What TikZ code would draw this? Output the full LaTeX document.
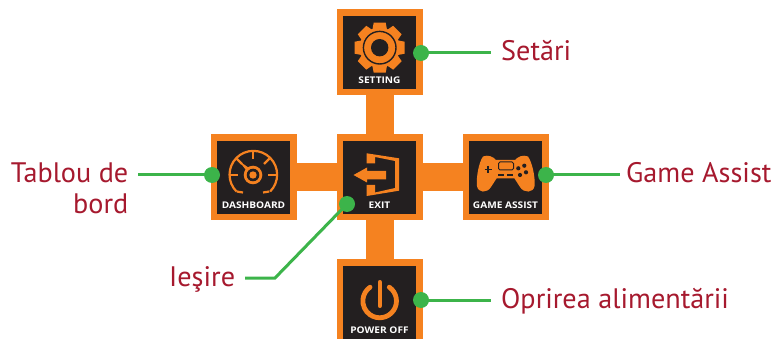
\documentclass[tikz,border=0pt]{standalone}
\usepackage{fontspec}
\setmainfont{PT Sans}
\newfontfamily\iconfont{Open Sans}
\definecolor{og}{HTML}{F58220}
\definecolor{ink}{HTML}{231F20}
\definecolor{grn}{HTML}{3CB44A}
\definecolor{lab}{HTML}{A6192E}
\tikzset{
  outerbox/.style={fill=og,draw=none,minimum width=86pt,minimum height=86pt,inner sep=0,outer sep=0},
  innerbox/.style={fill=ink,draw=none,minimum width=73pt,minimum height=73pt,inner sep=0,outer sep=0},
  bar/.style={fill=og,draw=none},
  boxlabel/.style={text=white,inner sep=0,xscale=1.1,transform shape,font=\iconfont\bfseries\fontsize{9.2}{10}\selectfont},
  dot/.style={circle,fill=grn,draw=none,minimum size=16pt,inner sep=0,outer sep=0},
  leader/.style={draw=grn,line width=3pt},
  callout/.style={text=lab,inner sep=0,font=\fontsize{28.2}{30}\selectfont},
  iconline/.style={draw=og,line width=2.2pt},
}
\begin{document}
\begin{tikzpicture}[x=1pt,y=-1pt]
\useasboundingbox (0,0) rectangle (776,339);
\begin{scope}
\clip (0,0) rectangle (776,339);
% connecting bars
\path[bar] (366,90) rectangle (394,265);
\path[bar] (292,163) rectangle (468,191);
% boxes
\node[outerbox] (settingO) at (380,52) {};
\node[innerbox] (settingI) at (379.5,52.5) {};
\node[outerbox] (dashO) at (254,177) {};
\node[innerbox] (dashI) at (253.5,177.5) {};
\node[outerbox] (exitO) at (380,177) {};
\node[innerbox] (exitI) at (379.5,177.5) {};
\node[outerbox] (gameO) at (506,177) {};
\node[innerbox] (gameI) at (505.5,177.5) {};
\node[outerbox] (powerO) at (380,302) {};
\node[innerbox] (powerI) at (379.5,302.5) {};
% gear
\begin{scope}[shift={(379.7,47.7)}]
  \foreach \a in {0,45,...,315}{
    \fill[og,rotate=\a] (-6,-25) -- (6,-25) -- (7.5,-17) -- (-7.5,-17) -- cycle;
  }
  \fill[og] (0,0) circle (20);
  \draw[ink,line width=1.4pt] (0,0) circle (16.3);
  \fill[ink] (0,0) circle (8.7);
\end{scope}
% dashboard
\begin{scope}[shift={(253,175)}]
  \draw[iconline] (-16.5,16.5) arc[start angle=225,end angle=-45,x radius=23.8,y radius=-23.8];
  \draw[iconline] (-23,0) -- (-15,0);
  \draw[iconline] (23,0) -- (15,0);
  \draw[iconline] (0,-23) -- (0,-16);
  \draw[iconline] (16.3,-16.3) -- (11,-11);
  \draw[iconline] (-16.3,-16.3) -- (-11,-11);
  \draw[iconline] (-16.3,16.5) -- (-10,17.5);
  \draw[iconline] (16.3,16.5) -- (10,17.5);
  \fill[og] (-14,-14) -- (-1,-5) -- (-4,-1) -- cycle;
  \fill[og] (0,0) circle (9.3);
  \fill[ink] (0,0) circle (6.3);
  \fill[og] (0,0) circle (3.7);
\end{scope}
% exit
\fill[og,even odd rule] (366.7,153.3) -- (399,158.3) -- (399,190.7) -- (366.7,196) -- (366.7,185) -- (375,185) -- (375,192.5) -- (395,188) -- (395,161) -- (375,157) -- (375,163.5) -- (366.7,163.5) -- cycle;
\fill[og] (353.5,175) -- (367,167.5) -- (367,171) -- (386,171) -- (386,179.5) -- (367,179.5) -- (367,182.5) -- cycle;
% game pad
\fill[og] (483,156.5) .. controls (488,154.5) and (493,156.5) .. (496,160) -- (515,160) .. controls (518,156.5) and (523,154.5) .. (528,156.5) .. controls (532,162) and (535.5,177) .. (534.5,186) .. controls (533.5,193) and (524,193.5) .. (520,187) -- (514.5,178.5) -- (496.5,178.5) -- (491,187) .. controls (487,193.5) and (478,193) .. (477,186) .. controls (476,177) and (479,162) .. (483,156.5) -- cycle;
\draw[ink,line width=1pt,rounded corners=1.5pt] (498.5,162) rectangle (513.5,170);
\draw[ink,line width=1.4pt] (484.5,169.5) -- (491.5,169.5) (488,166) -- (488,173);
\draw[ink,line width=1.2pt] (498,175) -- (504,175) (507,175) -- (513,175);
\foreach \x/\y in {518.3/168.3,524.3/165.7,526/172.3,520/175}{\fill[ink] (\x,\y) circle (2.1);}
% power
\draw[og,line width=4.8pt,line cap=round] (389.3,287.2) arc[start angle=55,end angle=-235,x radius=16.8,y radius=-16.8];
\draw[og,line width=4pt,line cap=round] (379.7,282) -- (379.7,306);
\end{scope}
% box labels
\node[boxlabel] (settingT) at (379.5,80.5) {SETTING};
\node[boxlabel] (dashT) at (253.5,205.5) {DASHBOARD};
\node[boxlabel] (exitT) at (379.5,205.5) {EXIT};
\node[boxlabel] (gameT) at (505.5,205.5) {GAME ASSIST};
\node[boxlabel] (powerT) at (379.5,330.5) {POWER OFF};
% dots
\node[dot] (dSetting) at (421,53) {};
\node[dot] (dDash) at (212,175) {};
\node[dot] (dExit) at (347,204) {};
\node[dot] (dGame) at (546,175) {};
\node[dot] (dPower) at (421,300) {};
% free ends
\coordinate (eSetting) at (491,53);
\coordinate (eDash) at (138,175);
\coordinate (eGame) at (620,175);
\coordinate (ePower) at (491,300);
\coordinate (eExit) at (245,278);
\coordinate (kExit) at (275,278);
\draw[leader] (dSetting.center) -- (eSetting);
\draw[leader] (dDash.center) -- (eDash);
\draw[leader] (dGame.center) -- (eGame);
\draw[leader] (dPower.center) -- (ePower);
\draw[leader] (dExit.center) -- (kExit) -- (eExit);
% callouts
\node[callout,anchor=base west] (tSetting) at (501,61) {Setări};
\node[callout,anchor=base east] (tDash1) at (128.5,183) {Tablou de};
\node[callout,anchor=base east] (tDash2) at (128.5,214) {bord};
\node[callout,anchor=base west] (tGame) at (626,183) {Game Assist};
\node[callout,anchor=base west] (tExit) at (169,286) {Ieşire};
\node[callout,anchor=base west] (tPower) at (501,308) {Oprirea alimentării};
\end{tikzpicture}
\end{document}
